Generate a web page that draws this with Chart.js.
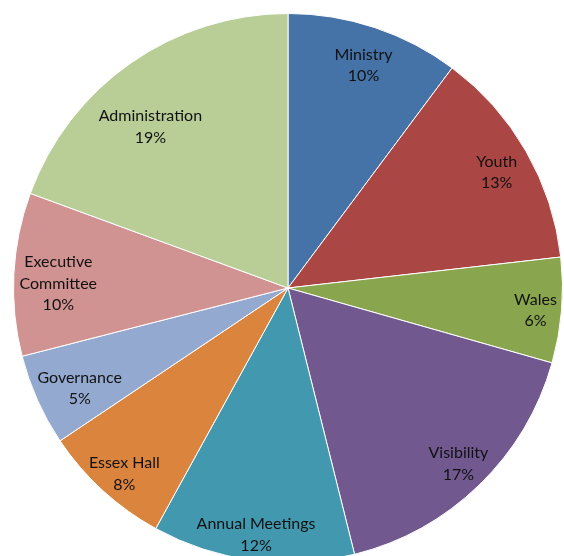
<!DOCTYPE html>
<html lang="en">
<head>
    <meta charset="UTF-8">
    <title>Budget pie</title>
    <script src="https://cdn.jsdelivr.net/npm/chart.js"></script>
    <style>
        html, body {
            margin: 0;
            padding: 0;
            background: #ffffff;
            overflow: hidden;
        }
        #chart-box {
            width: 576px;
            height: 576px;
        }
    </style>
</head>
<body>
    <div id="chart-box">
        <canvas id="pieChart" width="576" height="576"></canvas>
    </div>

    <script>
        // Data (share of the whole, in %)
        const categories = ['Ministry', 'Youth', 'Wales', 'Visibility', 'Annual Meetings',
                            'Essex Hall', 'Governance', 'Executive Committee', 'Administration'];
        const values = [10.2, 13.0, 6.2, 16.7, 11.9, 7.6, 5.4, 9.6, 19.4];

        // How each label is broken onto lines
        const labelLines = [['Ministry'], ['Youth'], ['Wales'], ['Visibility'], ['Annual Meetings'],
                            ['Essex Hall'], ['Governance'], ['Executive', 'Committee'], ['Administration']];

        const colors = ['#4572A7', '#AA4643', '#89A54E', '#71588F', '#4198AF',
                        '#DB843D', '#93A9CF', '#D19392', '#B9CD96'];

        // label placement: distance from centre (fraction of radius)
        // and where along the slice it sits (0 = start edge, 1 = end edge)
        const labelRadius = [0.857, 0.869, 0.905, 0.892, 0.906, 0.902, 0.842, 0.837, 0.772];
        const labelAlong = [0.51, 0.52, 0.52, 0.5, 0.5, 0.46, 0.42, 0.45, 0.42];

        const sliceLabels = {
            id: 'sliceLabels',
            afterDatasetsDraw(chart) {
                const ctx = chart.ctx;
                const arcs = chart.getDatasetMeta(0).data;
                const total = values.reduce((a, b) => a + b, 0);
                ctx.save();
                ctx.font = '16px Lato, "Open Sans", sans-serif';
                ctx.fillStyle = '#111111';
                ctx.textAlign = 'center';
                ctx.textBaseline = 'middle';
                arcs.forEach((arc, i) => {
                    const ang = arc.startAngle + (arc.endAngle - arc.startAngle) * labelAlong[i];
                    const r = arc.outerRadius * labelRadius[i];
                    const cx = arc.x + Math.cos(ang) * r;
                    const cy = arc.y + Math.sin(ang) * r;
                    const lines = labelLines[i].concat([Math.round(values[i] / total * 100) + '%']);
                    const lh = 21.5;
                    const top = cy - (lines.length - 1) * lh / 2;
                    lines.forEach((t, k) => ctx.fillText(t, cx, top + k * lh));
                });
                ctx.restore();
            }
        };

        new Chart(document.getElementById('pieChart'), {
            type: 'pie',
            data: {
                labels: categories,
                datasets: [{
                    data: values,
                    backgroundColor: colors,
                    borderColor: '#ffffff',
                    borderWidth: 1
                }]
            },
            options: {
                responsive: false,
                animation: false,
                layout: { padding: 13 },
                plugins: {
                    legend: { display: false },
                    tooltip: { enabled: false }
                }
            },
            plugins: [sliceLabels]
        });
    </script>
</body>
</html>
